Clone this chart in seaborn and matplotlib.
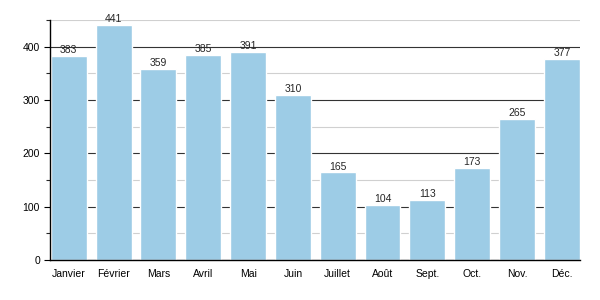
import matplotlib
matplotlib.use("Agg")
import matplotlib.pyplot as plt
import seaborn as sns
import pandas as pd
from matplotlib.ticker import MultipleLocator

months = ["Janvier", "Février", "Mars", "Avril", "Mai", "Juin", "Juillet",
          "Août", "Sept.", "Oct.", "Nov.", "Déc."]
values = [383, 441, 359, 385, 391, 310, 165, 104, 113, 173, 265, 377]

df = pd.DataFrame({"mois": months, "valeur": values})

sns.set_style("white")
plt.rcParams['font.family'] = ['Liberation Sans', 'DejaVu Sans']

fig, ax = plt.subplots(figsize=(6, 3), dpi=100)
fig.subplots_adjust(left=0.084, right=0.967, top=0.933, bottom=0.133)

sns.barplot(data=df, x="mois", y="valeur", color="#9dcce6", width=0.8,
            saturation=1, ax=ax, zorder=3)

ax.set_ylim(0, 450)
ax.set_xlim(-0.41, 11.41)
ax.yaxis.set_major_locator(MultipleLocator(100))
ax.yaxis.set_minor_locator(MultipleLocator(50))
ax.grid(which="major", axis="y", color="#333333", linewidth=0.8, zorder=0)
ax.grid(which="minor", axis="y", color="#d0d0d0", linewidth=0.8, zorder=0)
ax.set_axisbelow(True)

for s in ["top", "right"]:
    ax.spines[s].set_visible(False)
for s in ["left", "bottom"]:
    ax.spines[s].set_color("black")
    ax.spines[s].set_linewidth(1.0)
    ax.spines[s].set_zorder(5)

ax.tick_params(axis="y", which="major", left=True, length=4, width=0.8,
               labelsize=7.5, colors="black")
ax.tick_params(axis="y", which="minor", left=True, length=3, width=0.8)
ax.tick_params(axis="x", bottom=False, labelsize=7.5, pad=3, colors="black")
ax.set_xlabel("")
ax.set_ylabel("")

for i, v in enumerate(values):
    ax.text(i, v + 1, str(v), ha="center", va="bottom", fontsize=7.5, zorder=6)

fig.savefig("out.png", dpi=100)
